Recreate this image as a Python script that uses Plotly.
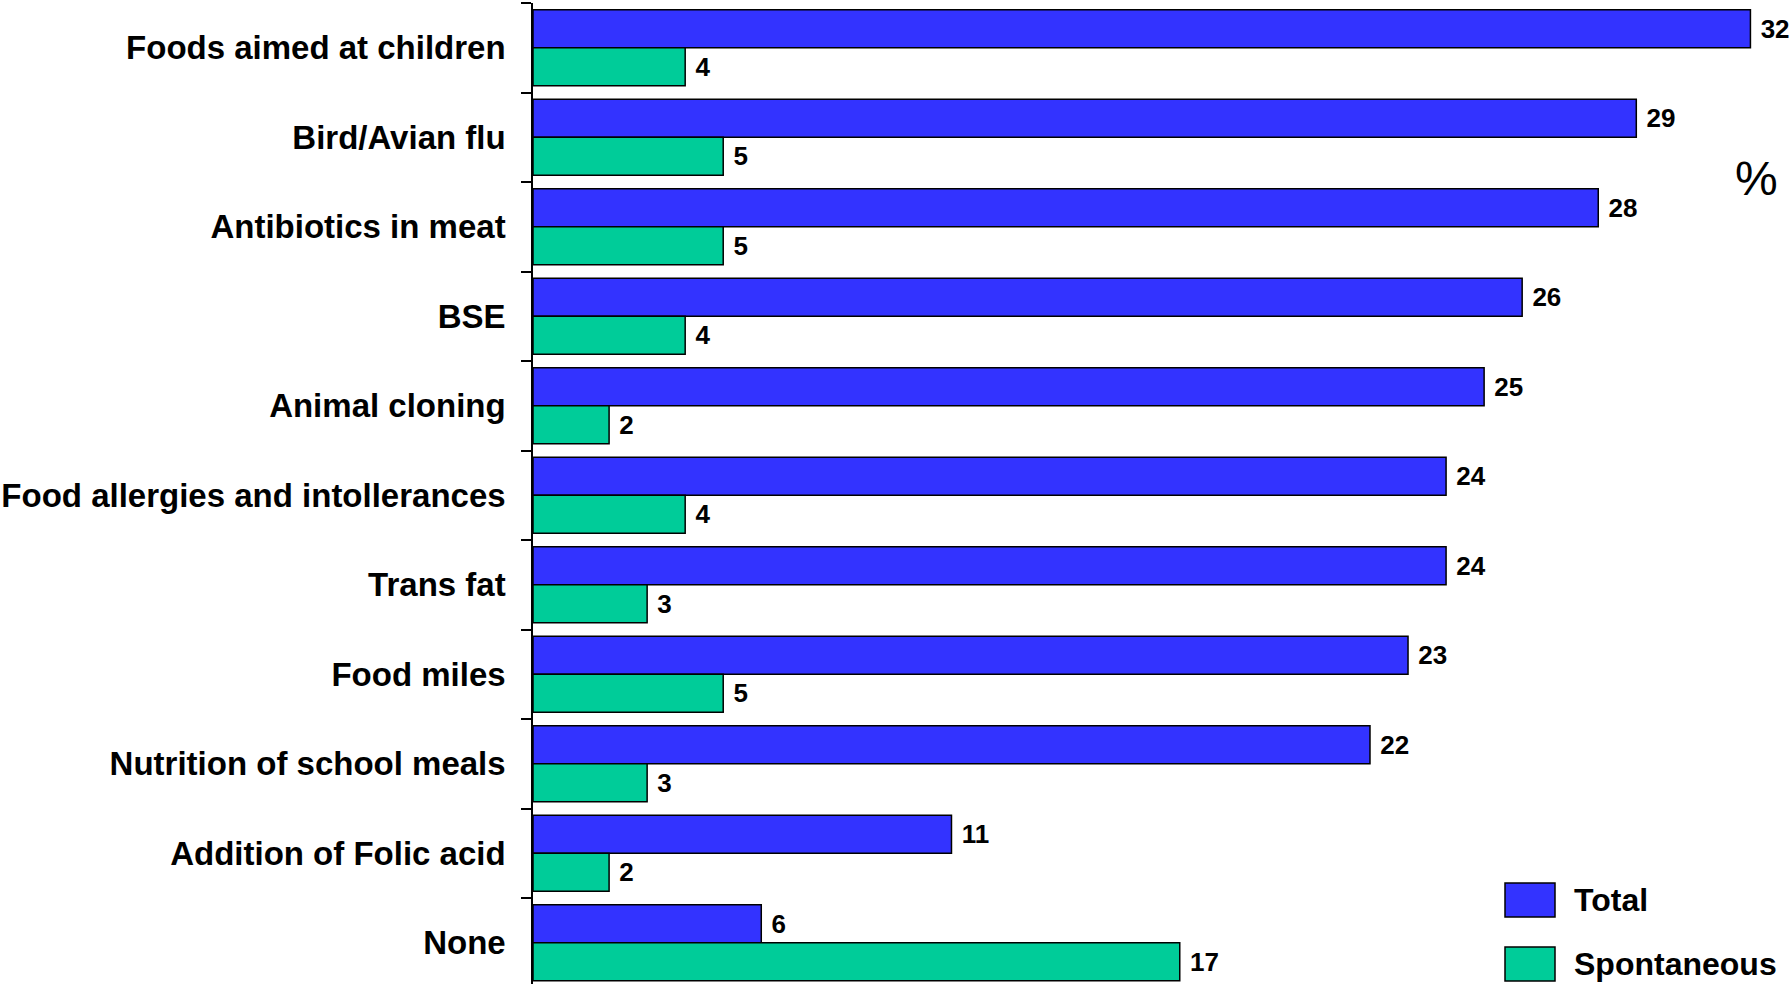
import plotly.graph_objects as go

categories = ["Foods aimed at children", "Bird/Avian flu", "Antibiotics in meat", "BSE",
              "Animal cloning", "Food allergies and intollerances", "Trans fat", "Food miles",
              "Nutrition of school meals", "Addition of Folic acid", "None"]
total = [32, 29, 28, 26, 25, 24, 24, 23, 22, 11, 6]
spontaneous = [4, 5, 5, 4, 2, 4, 3, 5, 3, 2, 17]
series_names = ["Total", "Spontaneous"]

BLUE = "#3333FF"
GREEN = "#00CC99"
FONT = "Liberation Sans, Arial, sans-serif"

fig = go.Figure()
for name, vals, col in [(series_names[0], total, BLUE), (series_names[1], spontaneous, GREEN)]:
    fig.add_trace(go.Bar(
        y=categories, x=vals, orientation="h", name=name,
        marker=dict(color=col, line=dict(color="black", width=1.5)),
        text=vals, texttemplate=" %{x}", textposition="outside",
        textfont=dict(family=FONT, size=26, color="black", weight="bold"),
        cliponaxis=False, showlegend=False, hoverinfo="skip",
    ))

fig.update_layout(
    width=1792, height=984,
    margin=dict(l=533, r=2, t=3, b=0),
    paper_bgcolor="white", plot_bgcolor="white",
    barmode="group", bargap=0.15, bargroupgap=0,
    xaxis=dict(range=[0, 33.04], visible=False, fixedrange=True),
    yaxis=dict(
        categoryorder="array", categoryarray=categories,
        range=[10.46, -0.5], showline=True, linecolor="black", linewidth=1.5,
        ticks="outside", ticklen=10, tickcolor="black", tickwidth=1.5,
        tickson="boundaries", ticklabelstandoff=19, fixedrange=True,
        tickfont=dict(family=FONT, size=33, color="black", weight="bold"),
        showgrid=False, zeroline=False,
    ),
    font=dict(family=FONT),
)

# custom legend (plot area spans 3..984 px vertically)
legend_items = [(series_names[0], BLUE, (984 - 900) / 981), (series_names[1], GREEN, (984 - 964) / 981)]
for name, col, yc in legend_items:
    fig.add_shape(type="rect", xref="paper", yref="paper",
                  x0=(1505 - 533) / 1257, x1=(1555 - 533) / 1257,
                  y0=yc - 0.0173, y1=yc + 0.0173,
                  fillcolor=col, line=dict(color="black", width=1.5))
    fig.add_annotation(text=name, xref="paper", yref="paper",
                       x=(1572 - 533) / 1257, y=yc, xanchor="left", yanchor="middle",
                       showarrow=False,
                       font=dict(family=FONT, size=32, color="black", weight="bold"))

fig.add_annotation(text="%", xref="paper", yref="paper",
                   x=(1756 - 533) / 1257, y=1 - (178 - 3) / 981, xanchor="center", yanchor="middle",
                   showarrow=False, font=dict(family=FONT, size=48, color="black"))

fig.write_html("out.html", config={"displayModeBar": False},
               post_script="document.body.style.margin='0';document.body.style.overflow='hidden';")
